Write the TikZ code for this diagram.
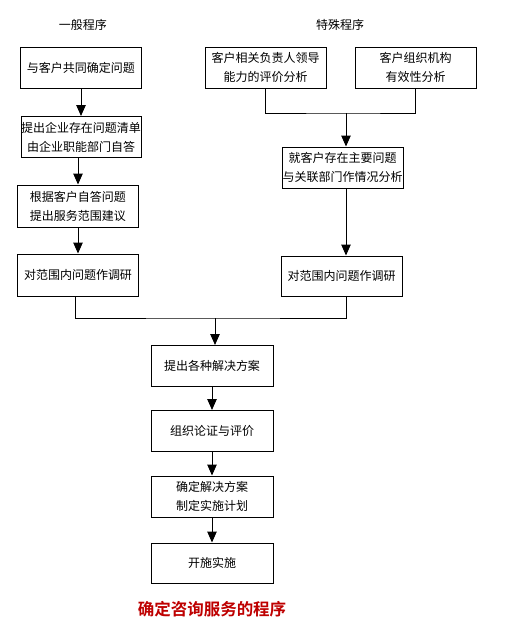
\documentclass[tikz,border=0pt]{standalone}
\usepackage{fontspec}
\newfontfamily\cjk{Noto Sans CJK SC}
\newfontfamily\cjkbold{Noto Sans CJK SC Bold}
\usetikzlibrary{arrows.meta,positioning}
\definecolor{ink}{RGB}{0,0,0}
\definecolor{capred}{RGB}{190,0,0}
\tikzset{
  >={Triangle[length=11pt,width=9.5pt]},
  stepbox/.style={draw=ink,line width=1pt,minimum width=121pt,minimum height=41pt,
    inner sep=0pt,align=center,font=\cjk\fontsize{12}{19}\selectfont},
  head/.style={font=\cjk\fontsize{12}{14}\selectfont},
  flow/.style={->,line width=1pt,draw=ink},
  link/.style={line width=1pt,draw=ink},
}
\begin{document}
\begin{tikzpicture}[x=1pt,y=-1pt]
  \useasboundingbox (0,0) rectangle (506,625);
  % headings
  \node[head] (gen) at (83,25) {一般程序};
  \node[head] (spec) at (340,25) {特殊程序};
  % general route
  \node[stepbox] (a1) at (81,67.5) {与客户共同确定问题};
  \node[stepbox,minimum width=119pt] (a2) at (81,137) {提出企业存在问题清单\\由企业职能部门自答};
  \node[stepbox,minimum height=42pt] (a3) at (78,206) {根据客户自答问题\\提出服务范围建议};
  \node[stepbox,minimum height=42pt] (a4) at (78,275) {对范围内问题作调研};
  \draw[flow] (a1) -- (a2);
  \draw[flow] (a2.south -| a3.north) -- (a3);
  \draw[flow] (a3) -- (a4);
  % special route
  \node[stepbox] (b1) at (265.5,67.5) {客户相关负责人领导\\能力的评价分析};
  \node[stepbox] (b2) at (415.5,67.5) {客户组织机构\\有效性分析};
  \node[stepbox] (b3) at (342.5,167.5) {就客户存在主要问题\\与关联部门作情况分析};
  \node[stepbox,minimum height=40pt] (b4) at (341.5,276) {对范围内问题作调研};
  \coordinate (bj) at (346,113);
  \draw[link] (b1.south) |- (bj) -| (b2.south);
  \draw[flow] (bj) -- (bj |- b3.north);
  \draw[flow] (b3.south -| bj) -- (bj |- b4.north);
  % common route
  \coordinate (cj) at (215,318);
  \node[stepbox,minimum width=122pt] (c1) at (212,366) {提出各种解决方案};
  \node[stepbox,minimum width=122pt] (c2) at (212,431) {组织论证与评价};
  \node[stepbox,minimum width=122pt] (c3) at (212,496.5) {确定解决方案\\制定实施计划};
  \node[stepbox,minimum width=122pt,minimum height=40pt] (c4) at (212,563) {开施实施};
  \draw[link] (a4.south -| 75,0) |- (cj) -| (b4.south -| bj);
  \draw[flow] (cj) -- (cj |- c1.north);
  \draw[flow] (c1) -- (c2);
  \draw[flow] (c2) -- (c3);
  \draw[flow] (c3) -- (c4);
  % caption
  \node[font=\cjkbold\fontsize{16.5}{20}\selectfont,text=capred] (cap) at (212,609) {确定咨询服务的程序};
\end{tikzpicture}
\end{document}
